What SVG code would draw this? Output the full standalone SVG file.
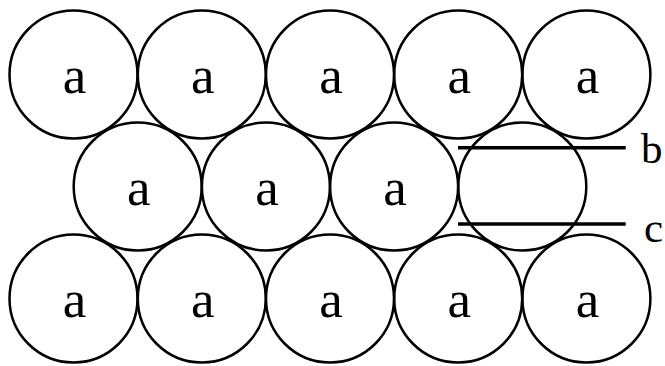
<svg xmlns="http://www.w3.org/2000/svg" width="665" height="366" viewBox="0 0 665 366">
<style>
.c{fill:none;stroke:#000;stroke-width:2.5}
.t{font-family:"Liberation Serif","Times New Roman",serif;font-size:53px;fill:#000;text-anchor:middle}
.l{font-family:"Liberation Serif","Times New Roman",serif;font-size:43px;fill:#000}
.ln{stroke:#000;stroke-width:3.5}
</style>
<rect width="665" height="366" fill="#fff"/>
<g id="r1c1"><circle class="c" cx="73.5" cy="74.5" r="64"/><text class="t" x="74.5" y="93">a</text></g>
<g id="r1c2"><circle class="c" cx="201.8" cy="74.5" r="64"/><text class="t" x="202.8" y="93">a</text></g>
<g id="r1c3"><circle class="c" cx="330" cy="74.5" r="64"/><text class="t" x="331" y="93">a</text></g>
<g id="r1c4"><circle class="c" cx="458.2" cy="74.5" r="64"/><text class="t" x="459.2" y="93">a</text></g>
<g id="r1c5"><circle class="c" cx="586.4" cy="74.5" r="64"/><text class="t" x="587.4" y="93">a</text></g>
<g id="r2c1"><circle class="c" cx="137.7" cy="186.5" r="64"/><text class="t" x="138.7" y="205">a</text></g>
<g id="r2c2"><circle class="c" cx="265.9" cy="186.5" r="64"/><text class="t" x="266.9" y="205">a</text></g>
<g id="r2c3"><circle class="c" cx="394.1" cy="186.5" r="64"/><text class="t" x="395.1" y="205">a</text></g>
<g id="r2c4"><circle class="c" cx="522.3" cy="186.5" r="64"/></g>
<g id="r3c1"><circle class="c" cx="73.5" cy="298.5" r="64"/><text class="t" x="74.5" y="317">a</text></g>
<g id="r3c2"><circle class="c" cx="201.8" cy="298.5" r="64"/><text class="t" x="202.8" y="317">a</text></g>
<g id="r3c3"><circle class="c" cx="330" cy="298.5" r="64"/><text class="t" x="331" y="317">a</text></g>
<g id="r3c4"><circle class="c" cx="458.2" cy="298.5" r="64"/><text class="t" x="459.2" y="317">a</text></g>
<g id="r3c5"><circle class="c" cx="586.4" cy="298.5" r="64"/><text class="t" x="587.4" y="317">a</text></g>
<g id="connectors">
<line class="ln" x1="458" y1="147.7" x2="625.7" y2="147.7"/>
<line class="ln" x1="458" y1="224" x2="625.7" y2="224"/>
</g>
<g id="labels">
<text class="l" x="641" y="162.5">b</text>
<text class="l" x="644" y="241.5">c</text>
</g>
</svg>
